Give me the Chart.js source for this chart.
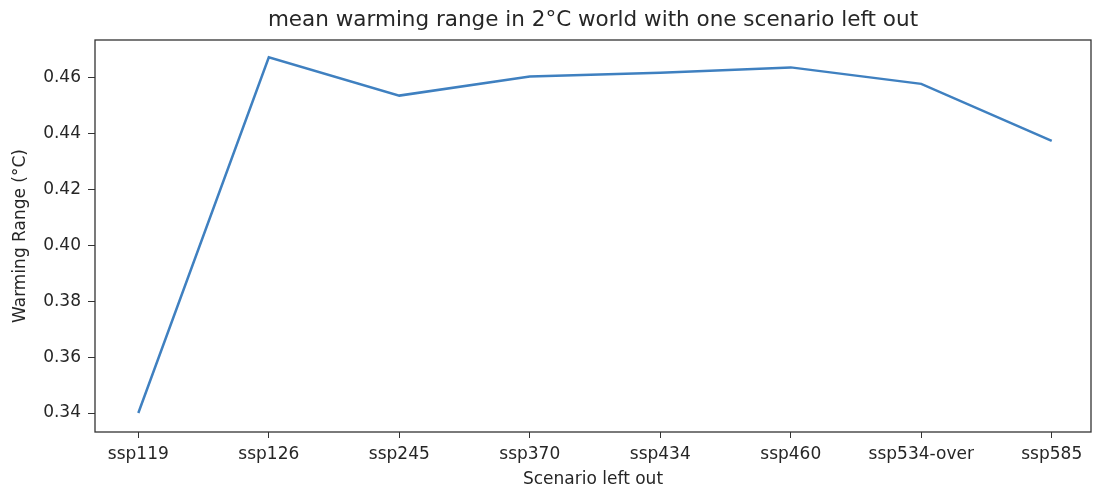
<!DOCTYPE html>
<html>
<head>
<meta charset="utf-8">
<script src="https://cdn.jsdelivr.net/npm/chart.js@4"></script>
<style>
html,body{margin:0;padding:0;background:#fff;}
#c{display:block;}
</style>
</head>
<body>
<canvas id="c" width="1093" height="489"></canvas>
<script>
const scenarios = ["ssp119","ssp126","ssp245","ssp370","ssp434","ssp460","ssp534-over","ssp585"];
const warmingRange = [0.3400, 0.4673, 0.4536, 0.4604, 0.4618, 0.4637, 0.4578, 0.4374];
const yTicks = [0.34, 0.36, 0.38, 0.40, 0.42, 0.44, 0.46];
const titleText = "mean warming range in 2°C world with one scenario left out";
const xLabel = "Scenario left out";
const yLabel = "Warming Range (°C)";

const FONT = "'DejaVu Sans', sans-serif";
const TXT = "#262626";

const frame = {
  id: "frame",
  afterDraw(chart) {
    const {ctx, chartArea: a} = chart;
    ctx.save();
    ctx.strokeStyle = "#333";
    ctx.lineWidth = 1.3;
    ctx.strokeRect(a.left, a.top, a.right - a.left, a.bottom - a.top);
    ctx.fillStyle = TXT;
    ctx.font = "21.5px " + FONT;
    ctx.textAlign = "center";
    ctx.textBaseline = "alphabetic";
    ctx.fillText(titleText, (a.left + a.right) / 2, a.top - 14);
    ctx.restore();
  }
};

new Chart(document.getElementById("c"), {
  type: "line",
  data: {
    datasets: [{
      data: warmingRange.map((v, i) => ({x: i, y: v})),
      borderColor: "#3f80c0",
      borderWidth: 2.5,
      pointRadius: 0,
      fill: false,
      tension: 0
    }]
  },
  options: {
    responsive: false,
    animation: false,
    layout: {padding: {top: 40, right: 2, left: 0, bottom: 0}},
    plugins: {legend: {display: false}, tooltip: {enabled: false}, title: {display: false}},
    scales: {
      x: {
        type: "linear",
        min: -0.332,
        max: 7.301,
        afterBuildTicks(s) { s.ticks = scenarios.map((_, i) => ({value: i})); },
        afterFit(s) { s.height = 57; },
        ticks: {
          callback: (v) => scenarios[v],
          color: TXT, font: {family: FONT, size: 17}, padding: 6, maxRotation: 0, autoSkip: false
        },
        grid: {drawOnChartArea: false, drawTicks: true, tickLength: 6, tickColor: "#333"},
        border: {display: false},
        title: {display: true, text: xLabel, color: TXT, font: {family: FONT, size: 17}, padding: {top: 0, bottom: -1}}
      },
      y: {
        min: 0.3332,
        max: 0.4735,
        afterBuildTicks(s) { s.ticks = yTicks.map(v => ({value: v})); },
        afterFit(s) { s.width = 95; },
        ticks: {
          callback: (v) => v.toFixed(2),
          color: TXT, font: {family: FONT, size: 17}, padding: 7
        },
        grid: {drawOnChartArea: false, drawTicks: true, tickLength: 7, tickColor: "#333"},
        border: {display: false},
        title: {display: true, text: yLabel, color: TXT, font: {family: FONT, size: 17}, padding: {top: 10, bottom: 4}}
      }
    }
  },
  plugins: [frame]
});
</script>
</body>
</html>
